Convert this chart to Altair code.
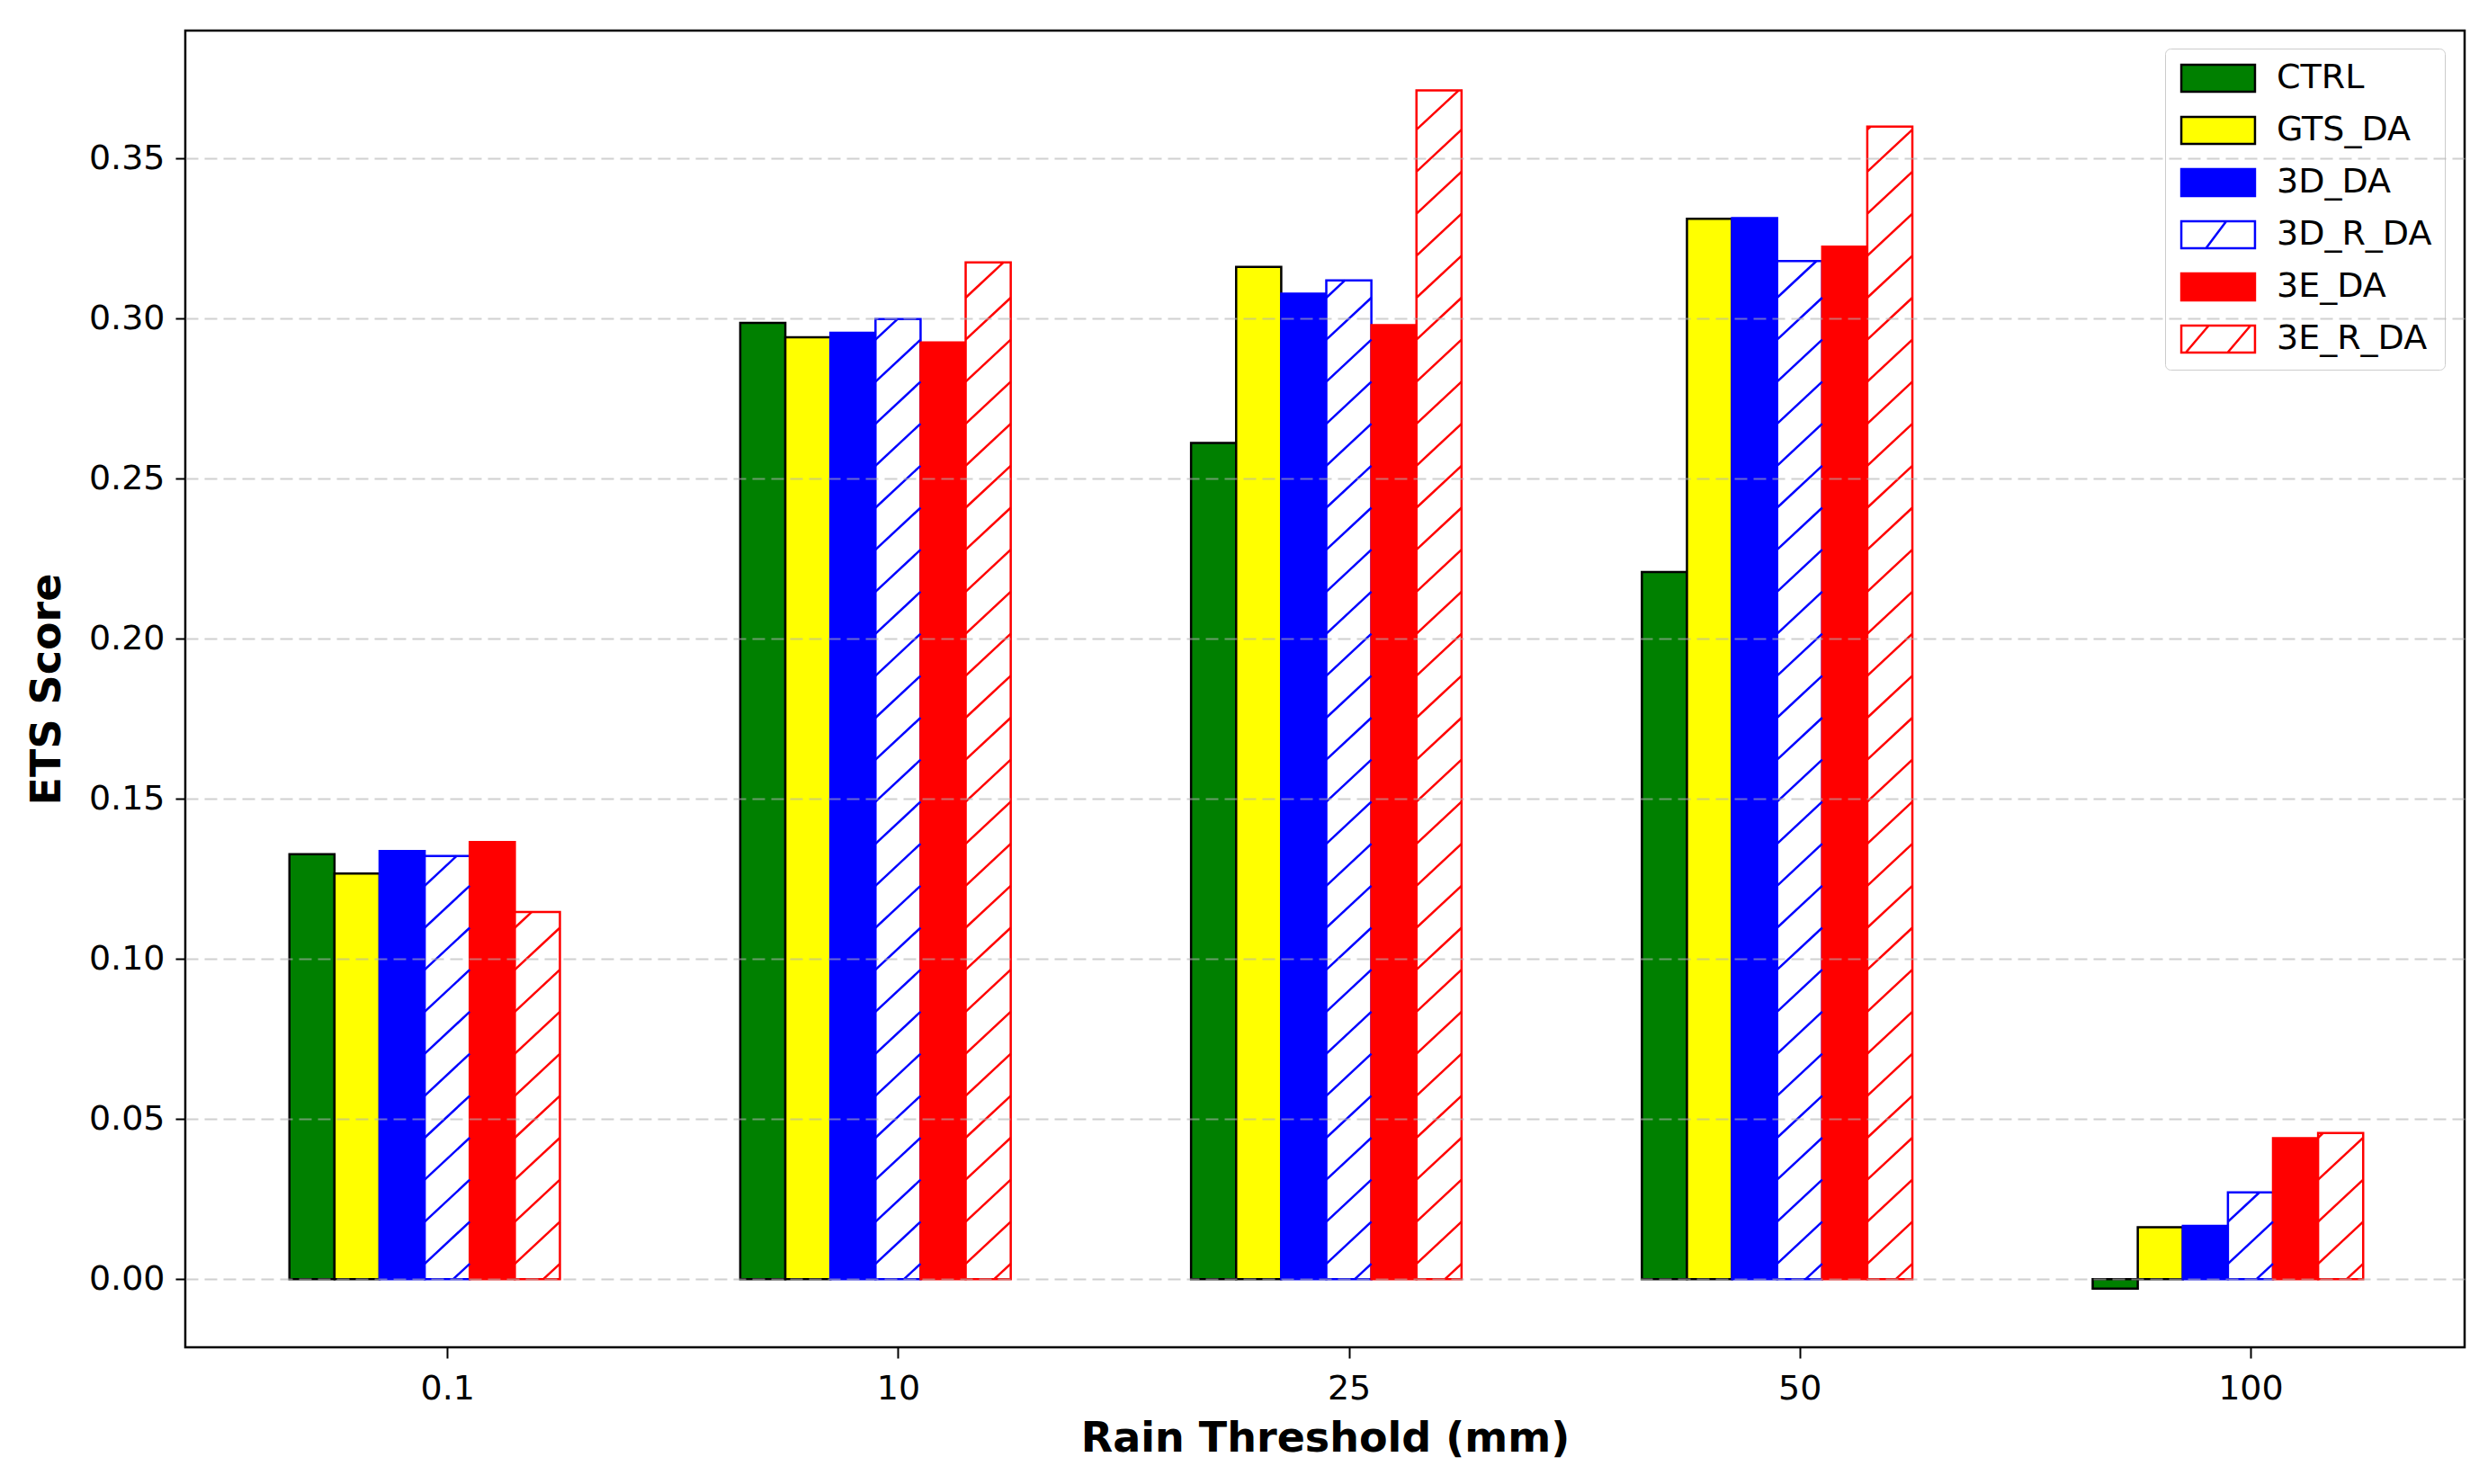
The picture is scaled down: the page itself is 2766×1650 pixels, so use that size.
import altair as alt
import pandas as pd
import numpy as np

thresholds = ["0.1", "10", "25", "50", "100"]
series = ["CTRL", "GTS_DA", "3D_DA", "3D_R_DA", "3E_DA", "3E_R_DA"]

ctrl = [0.1327, 0.2987, 0.2612, 0.2209, -0.0030]
gts_da = [0.1267, 0.2942, 0.3162, 0.3312, 0.0162]
d3_da = [0.1337, 0.2956, 0.3078, 0.3314, 0.0166]
d3_r_da = [0.1322, 0.2999, 0.3120, 0.3180, 0.0271]
e3_da = [0.1365, 0.2926, 0.2980, 0.3225, 0.0440]
e3_r_da = [0.1147, 0.3176, 0.3713, 0.3600, 0.0456]

values = [ctrl, gts_da, d3_da, d3_r_da, e3_da, e3_r_da]
fills = ["#008000", "#ffff00", "#0000ff", "#ffffff", "#ff0000", "#ffffff"]
strokes = ["#000000", "#000000", "#0000ff", "#0000ff", "#ff0000", "#ff0000"]
hatched = [False, False, False, True, False, True]

BAR_W = 0.1
HATCH_S = 0.01312
HATCH_C0 = 0.01136

rows = []
hatch_rows = []
for si, s in enumerate(series):
    for ti, t in enumerate(thresholds):
        v = values[si][ti]
        x0 = ti + (si - 3) * BAR_W - BAR_W / 2
        x1 = x0 + BAR_W
        rows.append({"series": s, "threshold": t, "x0": x0, "x1": x1, "value": v, "base": 0.0})
        if hatched[si] and v > 0:
            slope = HATCH_S / BAR_W
            phase = (x0 * slope + HATCH_C0) % HATCH_S
            start = phase - HATCH_S
            while start < v:
                t0 = max(0.0, -start / HATCH_S)
                t1 = min(1.0, (v - start) / HATCH_S)
                if t1 > t0:
                    hatch_rows.append({
                        "series": s,
                        "color": strokes[si],
                        "hx0": x0 + t0 * BAR_W,
                        "hx1": x0 + t1 * BAR_W,
                        "hy0": start + t0 * HATCH_S,
                        "hy1": start + t1 * HATCH_S,
                    })
                start += HATCH_S

df = pd.DataFrame(rows)
hdf = pd.DataFrame(hatch_rows)

rect_path = "M-2.73,-1H2.73V1H-2.73Z"
shapes = [
    rect_path,
    rect_path,
    rect_path,
    rect_path + "M-0.9,1L0.6,-1",
    rect_path,
    rect_path + "M-2.4,1L-0.7,-1M0.7,1L2.4,-1",
]

x_scale = alt.Scale(domain=[-0.581, 4.475], nice=False, zero=False)
y_scale = alt.Scale(domain=[-0.0213, 0.390], nice=False, zero=False)

label_expr = "[" + ",".join("'" + t + "'" for t in thresholds) + "][datum.value]"

x_axis = alt.Axis(
    values=list(range(len(thresholds))),
    labelExpr=label_expr,
    title="Rain Threshold (mm)",
    grid=False,
    domain=False,
    tickSize=12,
    tickWidth=2,
    tickColor="black",
    labelPadding=15,
    titlePadding=14,
)
y_axis = alt.Axis(
    values=[0.0, 0.05, 0.10, 0.15, 0.20, 0.25, 0.30, 0.35],
    format=".2f",
    title="ETS Score",
    grid=True,
    gridDash=[14, 7],
    gridColor="#b0b0b0",
    gridOpacity=0.6,
    gridWidth=2,
    domain=False,
    tickSize=11,
    tickWidth=2,
    tickColor="black",
    labelPadding=12,
    titlePadding=22,
    zindex=1,
)

fill_scale = alt.Scale(domain=series, range=fills)
stroke_scale = alt.Scale(domain=series, range=strokes)
shape_scale = alt.Scale(domain=series, range=shapes)

legend = alt.Legend(
    title=None,
    orient="none",
    legendX=2201,
    legendY=20,
    symbolSize=900,
    symbolStrokeWidth=2.5,
    symbolOffset=26,
    labelOffset=46,
    labelFont="DejaVu Sans",
    labelFontSize=38,
    labelColor="black",
    labelLimit=400,
    rowPadding=18,
    padding=14,
    strokeColor="#cccccc",
    fillColor="white",
    cornerRadius=6,
)

bars = alt.Chart(df).mark_bar(strokeWidth=2.5, strokeJoin="miter").encode(
    x=alt.X("x0:Q", scale=x_scale, axis=x_axis),
    x2="x1:Q",
    y=alt.Y("value:Q", scale=y_scale, axis=y_axis),
    y2="base:Q",
    fill=alt.Fill("series:N", scale=fill_scale, legend=legend),
    stroke=alt.Stroke("series:N", scale=stroke_scale, legend=legend),
)

hatch = alt.Chart(hdf).mark_rule(strokeWidth=2.5).encode(
    x=alt.X("hx0:Q", scale=x_scale),
    x2="hx1:Q",
    y=alt.Y("hy0:Q", scale=y_scale),
    y2="hy1:Q",
    stroke=alt.Stroke("color:N", scale=None),
)

legend_pts = alt.Chart(df).transform_filter("false").mark_point(filled=True, opacity=1).encode(
    x=alt.X("x0:Q", scale=x_scale),
    y=alt.Y("value:Q", scale=y_scale),
    fill=alt.Fill("series:N", scale=fill_scale, legend=legend),
    stroke=alt.Stroke("series:N", scale=stroke_scale, legend=legend),
    shape=alt.Shape("series:N", scale=shape_scale, legend=legend),
)

chart = alt.layer(bars, hatch, legend_pts).properties(
    width=2534,
    height=1464,
    autosize=alt.AutoSizeParams(type="none"),
    padding={"left": 198, "top": 26, "right": 16, "bottom": 130},
).configure_view(
    stroke="black",
    strokeWidth=2.5,
).configure_axis(
    labelFont="DejaVu Sans",
    labelFontSize=38,
    labelColor="black",
    titleFont="DejaVu Sans",
    titleFontSize=46,
    titleFontWeight="bold",
    titleColor="black",
)

chart.save("out.html", embed_options={"renderer": "svg", "actions": False})
